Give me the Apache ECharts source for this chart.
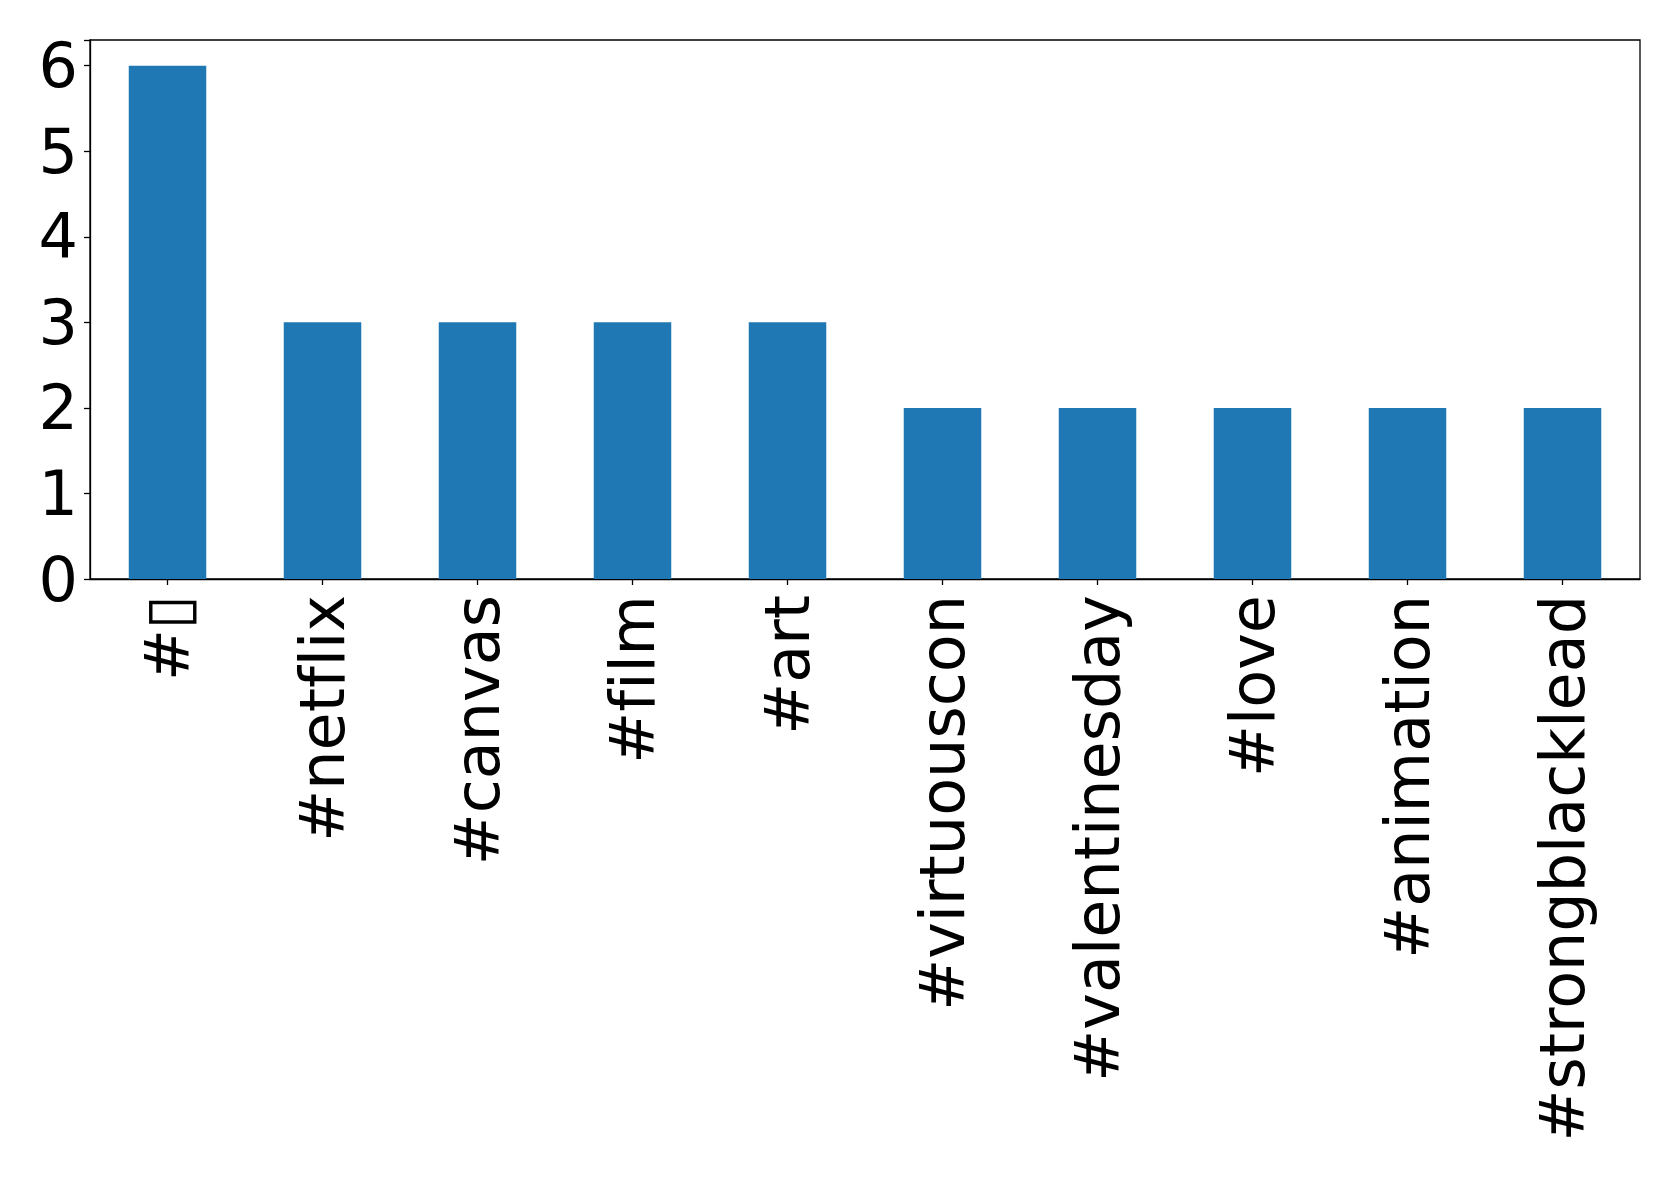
<!DOCTYPE html>
<html>
<head>
<meta charset="utf-8">
<script src="https://cdn.jsdelivr.net/npm/echarts@6/dist/echarts.min.js"></script>
<style>
html,body{margin:0;padding:0;background:#fff;}
#c{width:1679px;height:1179px;font-variant-ligatures:none;}
#c svg text{font-variant-ligatures:none !important;font-feature-settings:"liga" 0,"clig" 0 !important;}
</style>
</head>
<body>
<div id="c"></div>
<script>
const categories = ['#\u25AF', '#netflix', '#canvas', '#film', '#art', '#virtuouscon', '#valentinesday', '#love', '#animation', '#strongblacklead'];
const counts = [6, 3, 3, 3, 3, 2, 2, 2, 2, 2];
const yTicks = [0, 1, 2, 3, 4, 5, 6];

const chart = echarts.init(document.getElementById('c'), null, {renderer: 'svg'});
chart.setOption({
  animation: false,
  backgroundColor: '#ffffff',
  grid: {left: 90, top: 40, right: 39, bottom: 600, show: true, borderColor: '#000', borderWidth: 1.3, containLabel: false},
  xAxis: {
    type: 'category',
    data: categories,
    boundaryGap: true,
    axisLine: {show: true, lineStyle: {color: '#000', width: 1.3}},
    axisTick: {show: true, alignWithLabel: true, length: 6, lineStyle: {color: '#000', width: 1.3}},
    axisLabel: {rotate: 90, interval: 0, margin: 16, color: '#000', fontSize: 62, fontFamily: 'DejaVu Sans'},
    splitLine: {show: false}
  },
  yAxis: {
    type: 'value',
    min: 0, max: 6.3, interval: 1,
    axisLine: {show: true, lineStyle: {color: '#000', width: 1.3}},
    axisTick: {show: true, length: 6, lineStyle: {color: '#000', width: 1.3}},
    axisLabel: {color: '#000', fontSize: 62, fontFamily: 'DejaVu Sans', margin: 12,
      formatter: v => (yTicks.indexOf(v) >= 0 ? String(v) : '')},
    splitLine: {show: false}
  },
  series: [{
    type: 'bar',
    data: counts,
    barWidth: '50%',
    itemStyle: {color: '#1f77b4'}
  }]
});
</script>
</body>
</html>
